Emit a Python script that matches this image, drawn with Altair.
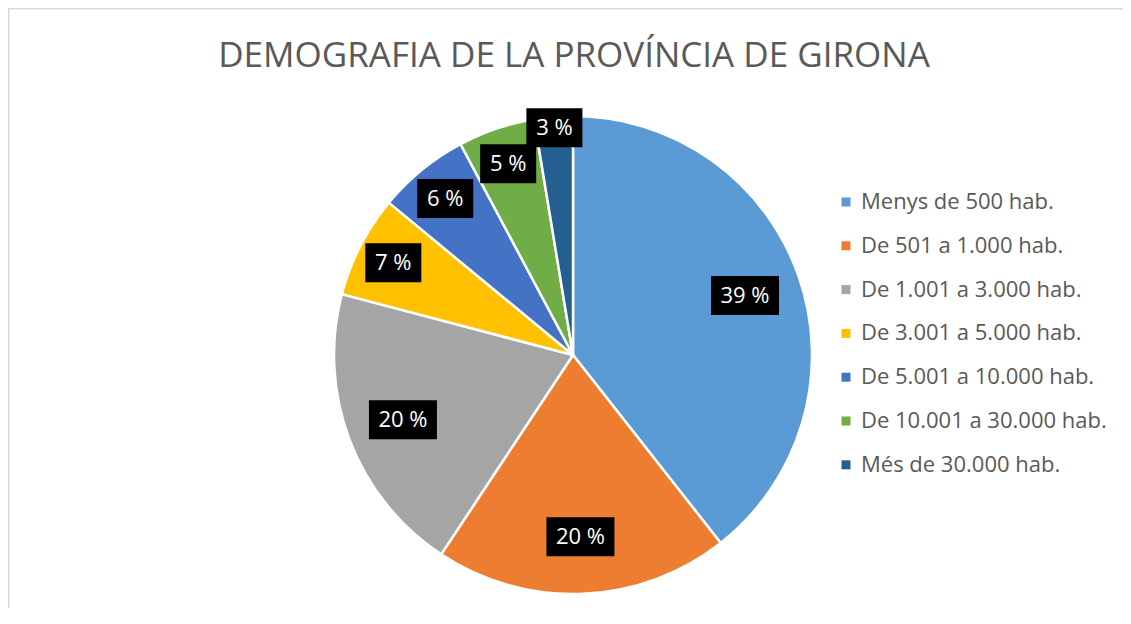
import altair as alt
import pandas as pd

TITLE = "DEMOGRAFIA DE LA PROVÍNCIA DE GIRONA"
CATEGORIES = [
    "Menys de 500 hab.",
    "De 501 a 1.000 hab.",
    "De 1.001 a 3.000 hab.",
    "De 3.001 a 5.000 hab.",
    "De 5.001 a 10.000 hab.",
    "De 10.001 a 30.000 hab.",
    "Més de 30.000 hab.",
]
PERCENTS = [39.4, 19.9, 19.8, 6.9, 6.2, 5.2, 2.6]
COLORS = ["#5B9BD5", "#ED7D31", "#A5A5A5", "#FFC000", "#4472C4", "#70AD47", "#255E91"]

df = pd.DataFrame({"cat": CATEGORIES, "pct": PERCENTS, "ord": list(range(len(CATEGORIES)))})

W, H = 1115, 600
CX, CY, R = 565, 347, 239
FONT = "Open Sans"
GREY = "#595959"

base = alt.Chart(df)

pie = base.mark_arc(x=CX, y=CY, outerRadius=R, stroke="white", strokeWidth=2.5).encode(
    theta=alt.Theta("pct:Q", stack=True),
    order=alt.Order("ord:Q"),
    color=alt.Color(
        "cat:N",
        sort=CATEGORIES,
        scale=alt.Scale(domain=CATEGORIES, range=COLORS),
        legend=alt.Legend(
            orient="none",
            legendX=827,
            legendY=183,
            title=None,
            symbolType="square",
            symbolSize=81,
            symbolStrokeWidth=0,
            labelFontSize=22,
            labelFont=FONT,
            labelColor=GREY,
            labelOffset=4,
            labelLimit=0,
            rowPadding=21.8,
            padding=0,
        ),
    ),
)

labels = (
    base.transform_joinaggregate(total="sum(pct)")
    .transform_window(cum="sum(pct)", sort=[alt.SortField("ord")], frame=[None, 0])
    .transform_calculate(
        mid="(datum.cum - datum.pct/2)/datum.total*2*PI",
        rad="datum.pct > 15 ? 182 : (datum.pct > 4 ? 202 : 228)",
        label="format(datum.pct, '.0f') + ' %'",
        bw="datum.pct >= 9.5 ? 68 : 56",
    )
    .transform_calculate(
        lx=f"{CX} + datum.rad*sin(datum.mid)",
        ly=f"{CY} - datum.rad*cos(datum.mid)",
    )
    .transform_calculate(
        bx1="datum.lx - datum.bw/2",
        bx2="datum.lx + datum.bw/2",
        by1="datum.ly - 19.5",
        by2="datum.ly + 19.5",
    )
)

boxes = labels.mark_rect(color="black").encode(
    x=alt.X("bx1:Q", scale=None, axis=None),
    x2="bx2:Q",
    y=alt.Y("by1:Q", scale=None, axis=None),
    y2="by2:Q",
)

texts = labels.mark_text(
    color="white", font=FONT, fontSize=22, align="center", baseline="middle"
).encode(
    x=alt.X("lx:Q", scale=None, axis=None),
    y=alt.Y("ly:Q", scale=None, axis=None),
    text="label:N",
)

title = alt.Chart(pd.DataFrame({"t": [TITLE]})).mark_text(
    font=FONT, fontSize=35, color=GREY, align="center", baseline="alphabetic"
).encode(x=alt.value(566), y=alt.value(59), text="t:N")

border_df = pd.DataFrame({"k": [0]})
top_rule = alt.Chart(border_df).mark_rule(color="#d9d9d9", strokeWidth=2).encode(
    x=alt.value(0), x2=alt.value(W), y=alt.value(0.5)
)
left_rule = alt.Chart(border_df).mark_rule(color="#d9d9d9", strokeWidth=2).encode(
    x=alt.value(0.5), y=alt.value(0), y2=alt.value(H)
)

chart = (
    alt.layer(top_rule, left_rule, pie, boxes, texts, title)
    .properties(width=W, height=H, autosize=alt.AutoSizeParams(type="none"), padding=0)
    .configure_view(stroke=None)
)

chart.save("out.html", embed_options={"renderer": "svg", "actions": False})
